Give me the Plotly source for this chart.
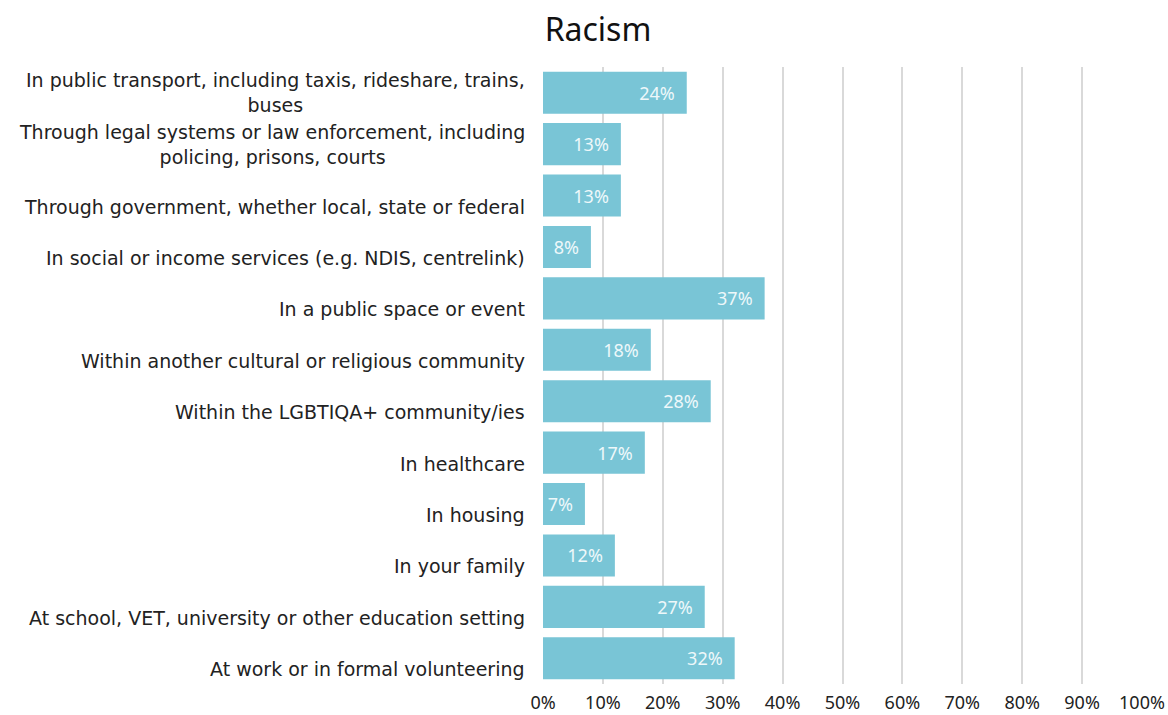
import plotly.graph_objects as go

# Settings where racism was experienced (bottom to top)
settings = [
    "At work or in formal volunteering",
    "At school, VET, university or other education setting",
    "In your family",
    "In housing",
    "In healthcare",
    "Within the LGBTIQA+ community/ies",
    "Within another cultural or religious community",
    "In a public space or event",
    "In social or income services (e.g. NDIS, centrelink)",
    "Through government, whether local, state or federal",
    "Through legal systems or law enforcement, including<br>policing, prisons, courts",
    "In public transport, including taxis, rideshare, trains,<br>buses",
]
shares = [32, 27, 12, 7, 17, 28, 18, 37, 8, 13, 13, 24]
tick_values = [0, 10, 20, 30, 40, 50, 60, 70, 80, 90, 100]
tick_labels = [f"{v}%" for v in tick_values]

FONT = "Noto Sans, Lato, sans-serif"
LABEL_FONT = "DejaVu Sans, Noto Sans, sans-serif"

fig = go.Figure(
    go.Bar(
        x=shares,
        y=settings,
        orientation="h",
        marker=dict(color="#79C5D6", line=dict(width=0)),
        width=0.82,
        text=[f"{v}%\u2002" for v in shares],
        textposition="inside",
        insidetextanchor="end",
        textfont=dict(color="#EEF8FA", size=18, family=FONT),
        cliponaxis=False,
    )
)

# Category labels: each sits in a two-line box, single-line labels on the lower line
for name in settings:
    single_line = "<br>" not in name
    fig.add_annotation(
        x=0,
        xref="paper",
        y=name,
        yref="y",
        text=name,
        showarrow=False,
        xanchor="right",
        yanchor="middle",
        align="center",
        xshift=-16,
        yshift=-11 if single_line else 0,
        font=dict(size=19, color="#222222", family=LABEL_FONT),
    )

fig.update_layout(
    width=1168,
    height=715,
    paper_bgcolor="white",
    plot_bgcolor="white",
    margin=dict(l=543, r=26, t=67, b=31),
    title=dict(
        text="Racism",
        x=0.512,
        xanchor="center",
        y=0.958,
        yanchor="middle",
        font=dict(size=32, color="#111111", family=FONT),
    ),
    font=dict(family=FONT, color="#222222"),
    showlegend=False,
)

fig.update_xaxes(
    range=[0, 100],
    tickvals=tick_values,
    ticktext=tick_labels,
    showgrid=True,
    gridcolor="#D9D9D9",
    gridwidth=2,
    zeroline=False,
    showline=False,
    tickfont=dict(size=18, color="#222222"),
    ticks="",
    ticklabelstandoff=6,
    automargin=False,
)

fig.update_yaxes(
    type="category",
    categoryorder="array",
    categoryarray=settings,
    showgrid=False,
    showline=False,
    ticks="",
    showticklabels=False,
    automargin=False,
)

fig.write_html("out.html")
